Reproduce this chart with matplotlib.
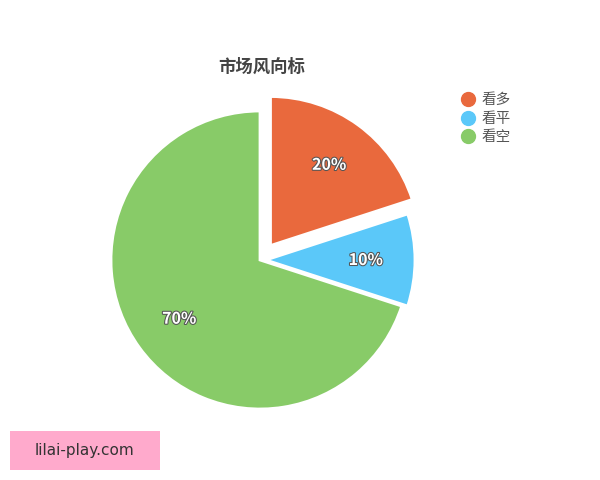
import matplotlib
matplotlib.use("Agg")
import matplotlib.pyplot as plt
import matplotlib.patheffects as pe
from matplotlib.patches import Rectangle
from matplotlib.lines import Line2D

plt.rcParams['font.family'] = ['Noto Sans CJK SC', 'DejaVu Sans']

# data
labels = ["看多", "看平", "看空"]
shares = [20, 10, 70]
colors = ["#E9693D", "#5BC8F9", "#88CB68"]
explode = [0.12, 0.04, 0.0]
title = "市场风向标"
watermark = "lilai-play.com"

fig = plt.figure(figsize=(6, 4.8), dpi=100)

# pie axes: centre ~ (260, 260) px, radius ~149 px
r_px = 149
ax = fig.add_axes([(260 - 180) / 600, (220 - 180) / 480, 360 / 600, 360 / 480])
lim = 180 / r_px
wedges, texts, autotexts = ax.pie(
    shares, colors=colors, explode=explode, startangle=90, counterclock=False,
    autopct="%d%%", pctdistance=0.67,
    wedgeprops=dict(edgecolor="white", linewidth=2),
    textprops=dict(color="white", fontsize=11.5, fontweight="bold"))
for t in autotexts:
    t.set_path_effects([pe.withStroke(linewidth=1.5, foreground="#555555")])
ax.set_xlim(-lim, lim)
ax.set_ylim(-lim, lim)
ax.set_aspect("equal")
ax.axis("off")

fig.text(262 / 600, 1 - 67 / 480, title, ha="center", va="center",
         fontsize=12.5, fontweight="bold", color="#444444")

handles = [Line2D([0], [0], marker="o", linestyle="", markersize=10,
                  markerfacecolor=c, markeredgecolor=c) for c in colors]
fig.legend(handles, labels, loc="upper left", bbox_to_anchor=(452 / 600, 1 - 86 / 480),
           frameon=False, fontsize=10.5, handletextpad=0.3, labelspacing=0.3,
           labelcolor="#555555", borderpad=0, handlelength=1.2)

# watermark box
fig.patches.append(Rectangle((10 / 600, 1 - 470 / 480), 150 / 600, 39 / 480,
                             transform=fig.transFigure, facecolor="#FFAACC",
                             edgecolor="none"))
fig.text(85 / 600, 1 - 451 / 480, watermark, ha="center", va="center",
         fontsize=11, color="#333333", family="DejaVu Sans")

fig.savefig("out.png", dpi=100)
